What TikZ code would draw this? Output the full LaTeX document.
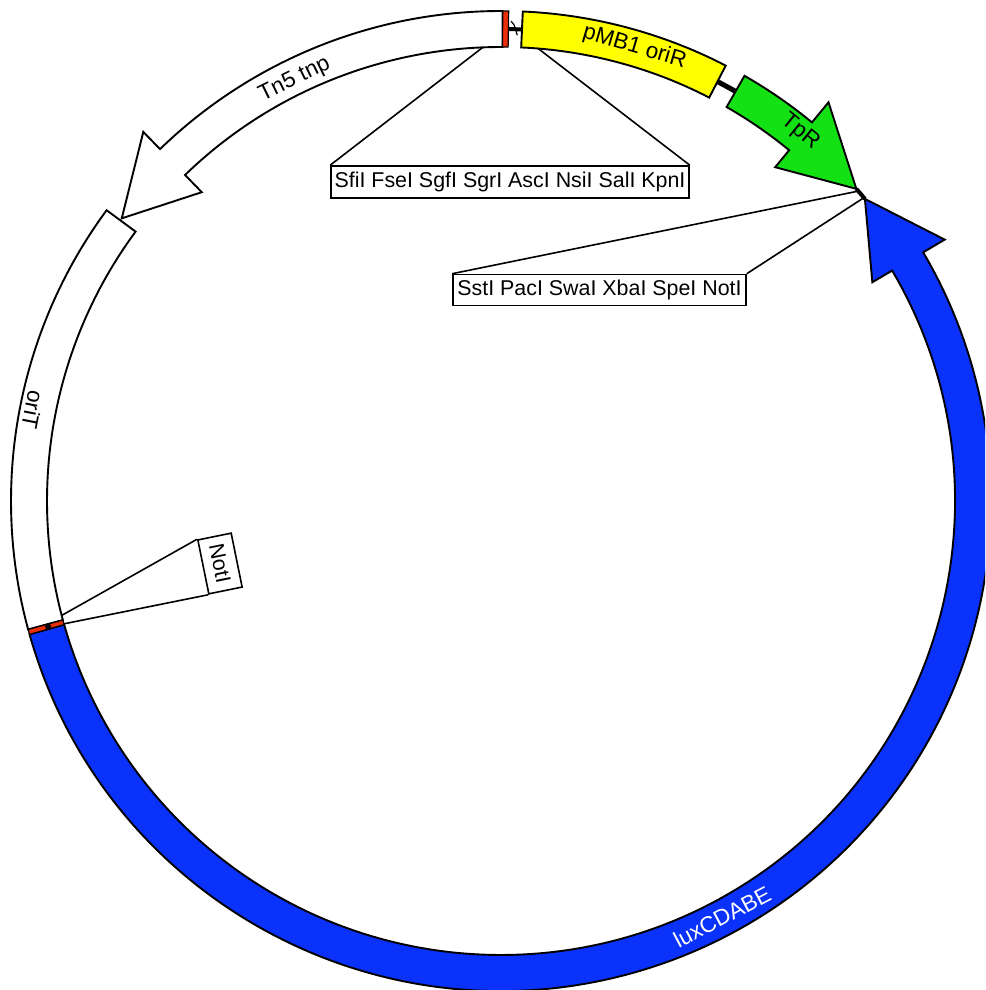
\documentclass[tikz,border=0pt]{standalone}
\usepackage{fontspec}
\setmainfont{Liberation Sans}
\definecolor{oriYellow}{RGB}{255,255,0}
\definecolor{tpGreen}{RGB}{20,225,20}
\definecolor{luxBlue}{RGB}{10,50,250}
\definecolor{siteRed}{RGB}{235,45,10}
\def\rOut{490}
\def\rIn{454}
\def\rMid{472}
\begin{document}
\begin{tikzpicture}[x=1pt,y=1pt,line join=miter,
  feat/.style={draw=black,line width=1.9pt},
  lbl/.style={font=\fontsize{22.5}{26}\selectfont,inner sep=0pt},
  sitebox/.style={draw=black,line width=1.6pt,fill=white,inner sep=0pt,
    font=\fontsize{21.4}{25}\selectfont},
  lead/.style={draw=black,line width=1.6pt},
  link/.style={draw=black,line width=4pt}]
\useasboundingbox (-501,-489) rectangle (484,501);
\clip (-501,-489) rectangle (484,501);

% short linker segments between features
\draw[link] (89.1:\rMid) arc[start angle=89.1,end angle=87.45,radius=\rMid];
\draw[link,line width=5pt] (62.7:\rMid) arc[start angle=62.7,end angle=60.2,radius=\rMid];
\draw[link] (41.3:473) arc[start angle=41.3,end angle=39.7,radius=473];

% Tn5 tnp (counter-clockwise arrow)
\draw[feat,fill=white] (89.8:\rOut) arc[start angle=89.8,end angle=134.1,radius=\rOut]
  -- (134.1:514) -- (143.3:473) -- (134.1:430) -- (134.1:\rIn)
  arc[start angle=134.1,end angle=89.8,radius=\rIn] -- cycle;

% oriT
\draw[feat,fill=white] (143.6:\rOut) arc[start angle=143.6,end angle=195.2,radius=\rOut]
  -- (195.2:\rIn) arc[start angle=195.2,end angle=143.6,radius=\rIn] -- cycle;

% luxCDABE (counter-clockwise arrow)
\draw[feat,fill=luxBlue] (195.8:\rOut) arc[start angle=195.8,end angle=390.5,radius=\rOut]
  -- (390.5:515) -- (399.7:473) -- (390.5:431) -- (390.5:\rIn)
  arc[start angle=390.5,end angle=195.8,radius=\rIn] -- cycle;

% small terminator marks
\draw[feat,fill=siteRed,line width=1.2pt] (195.2:\rOut) arc[start angle=195.2,end angle=195.8,radius=\rOut]
  -- (195.8:\rIn) arc[start angle=195.8,end angle=195.2,radius=\rIn] -- cycle;
\fill[black] (195.5:470) circle (3);
\draw[feat,fill=siteRed,line width=1.2pt] (89.1:\rOut) arc[start angle=89.1,end angle=89.8,radius=\rOut]
  -- (89.8:\rIn) arc[start angle=89.8,end angle=89.1,radius=\rIn] -- cycle;
\draw[black,line width=1.2pt] (88.8:480) -- (88.4:476) -- (88.0:466);

% pMB1 oriR
\draw[feat,fill=oriYellow] (87.45:\rOut) arc[start angle=87.45,end angle=62.7,radius=\rOut]
  -- (62.7:\rIn) arc[start angle=62.7,end angle=87.45,radius=\rIn] -- cycle;

% TpR (clockwise arrow)
\draw[feat,fill=tpGreen] (60.2:\rOut) arc[start angle=60.2,end angle=50.6,radius=\rOut]
  -- (50.6:516) -- (41.3:473) -- (50.6:432) -- (50.6:\rIn)
  arc[start angle=50.6,end angle=60.2,radius=\rIn] -- cycle;

% feature labels
\node[lbl,rotate=26.1] (lTn5) at (116.1:469) {Tn5 tnp};
\node[lbl,rotate=-16.4] (lOri) at (73.6:473) {pMB1 oriR};
\node[lbl,rotate=-39] (lTpR) at (51:475) {TpR};
\node[lbl,rotate=28,text=white] (lLux) at (-62:471) {luxCDABE};
\node[lbl,rotate=-101] (lOriT) at (169:477) {oriT};

% restriction site callouts
\coordinate (sA1) at (92.3:\rIn);
\coordinate (sA2) at (85.3:\rIn);
\coordinate (sB1) at (41:472);
\coordinate (sB2) at (39.9:472);
\coordinate (sC1) at (194.6:\rIn);
\coordinate (sC2) at (195.7:\rIn);

\node[sitebox,minimum width=358pt,minimum height=32pt] (siteA) at (9,319)
  {SfiI FseI SgfI SgrI AscI NsiI SalI KpnI};
\node[sitebox,minimum width=293pt,minimum height=31pt] (siteB) at (98.5,211)
  {SstI PacI SwaI XbaI SpeI NotI};
\node[sitebox,rotate=-78.5,minimum width=55pt,minimum height=34pt] (siteC) at (-281,-62.5)
  {NotI};

\draw[lead] (siteA.north west) -- (sA1);
\draw[lead] (siteA.north east) -- (sA2);
\draw[lead] (siteB.north west) -- (sB1);
\draw[lead] (siteB.north east) -- (sB2);
\draw[lead] (siteC.south west) -- (sC1);
\draw[lead] (siteC.south east) -- (sC2);
\end{tikzpicture}
\end{document}
